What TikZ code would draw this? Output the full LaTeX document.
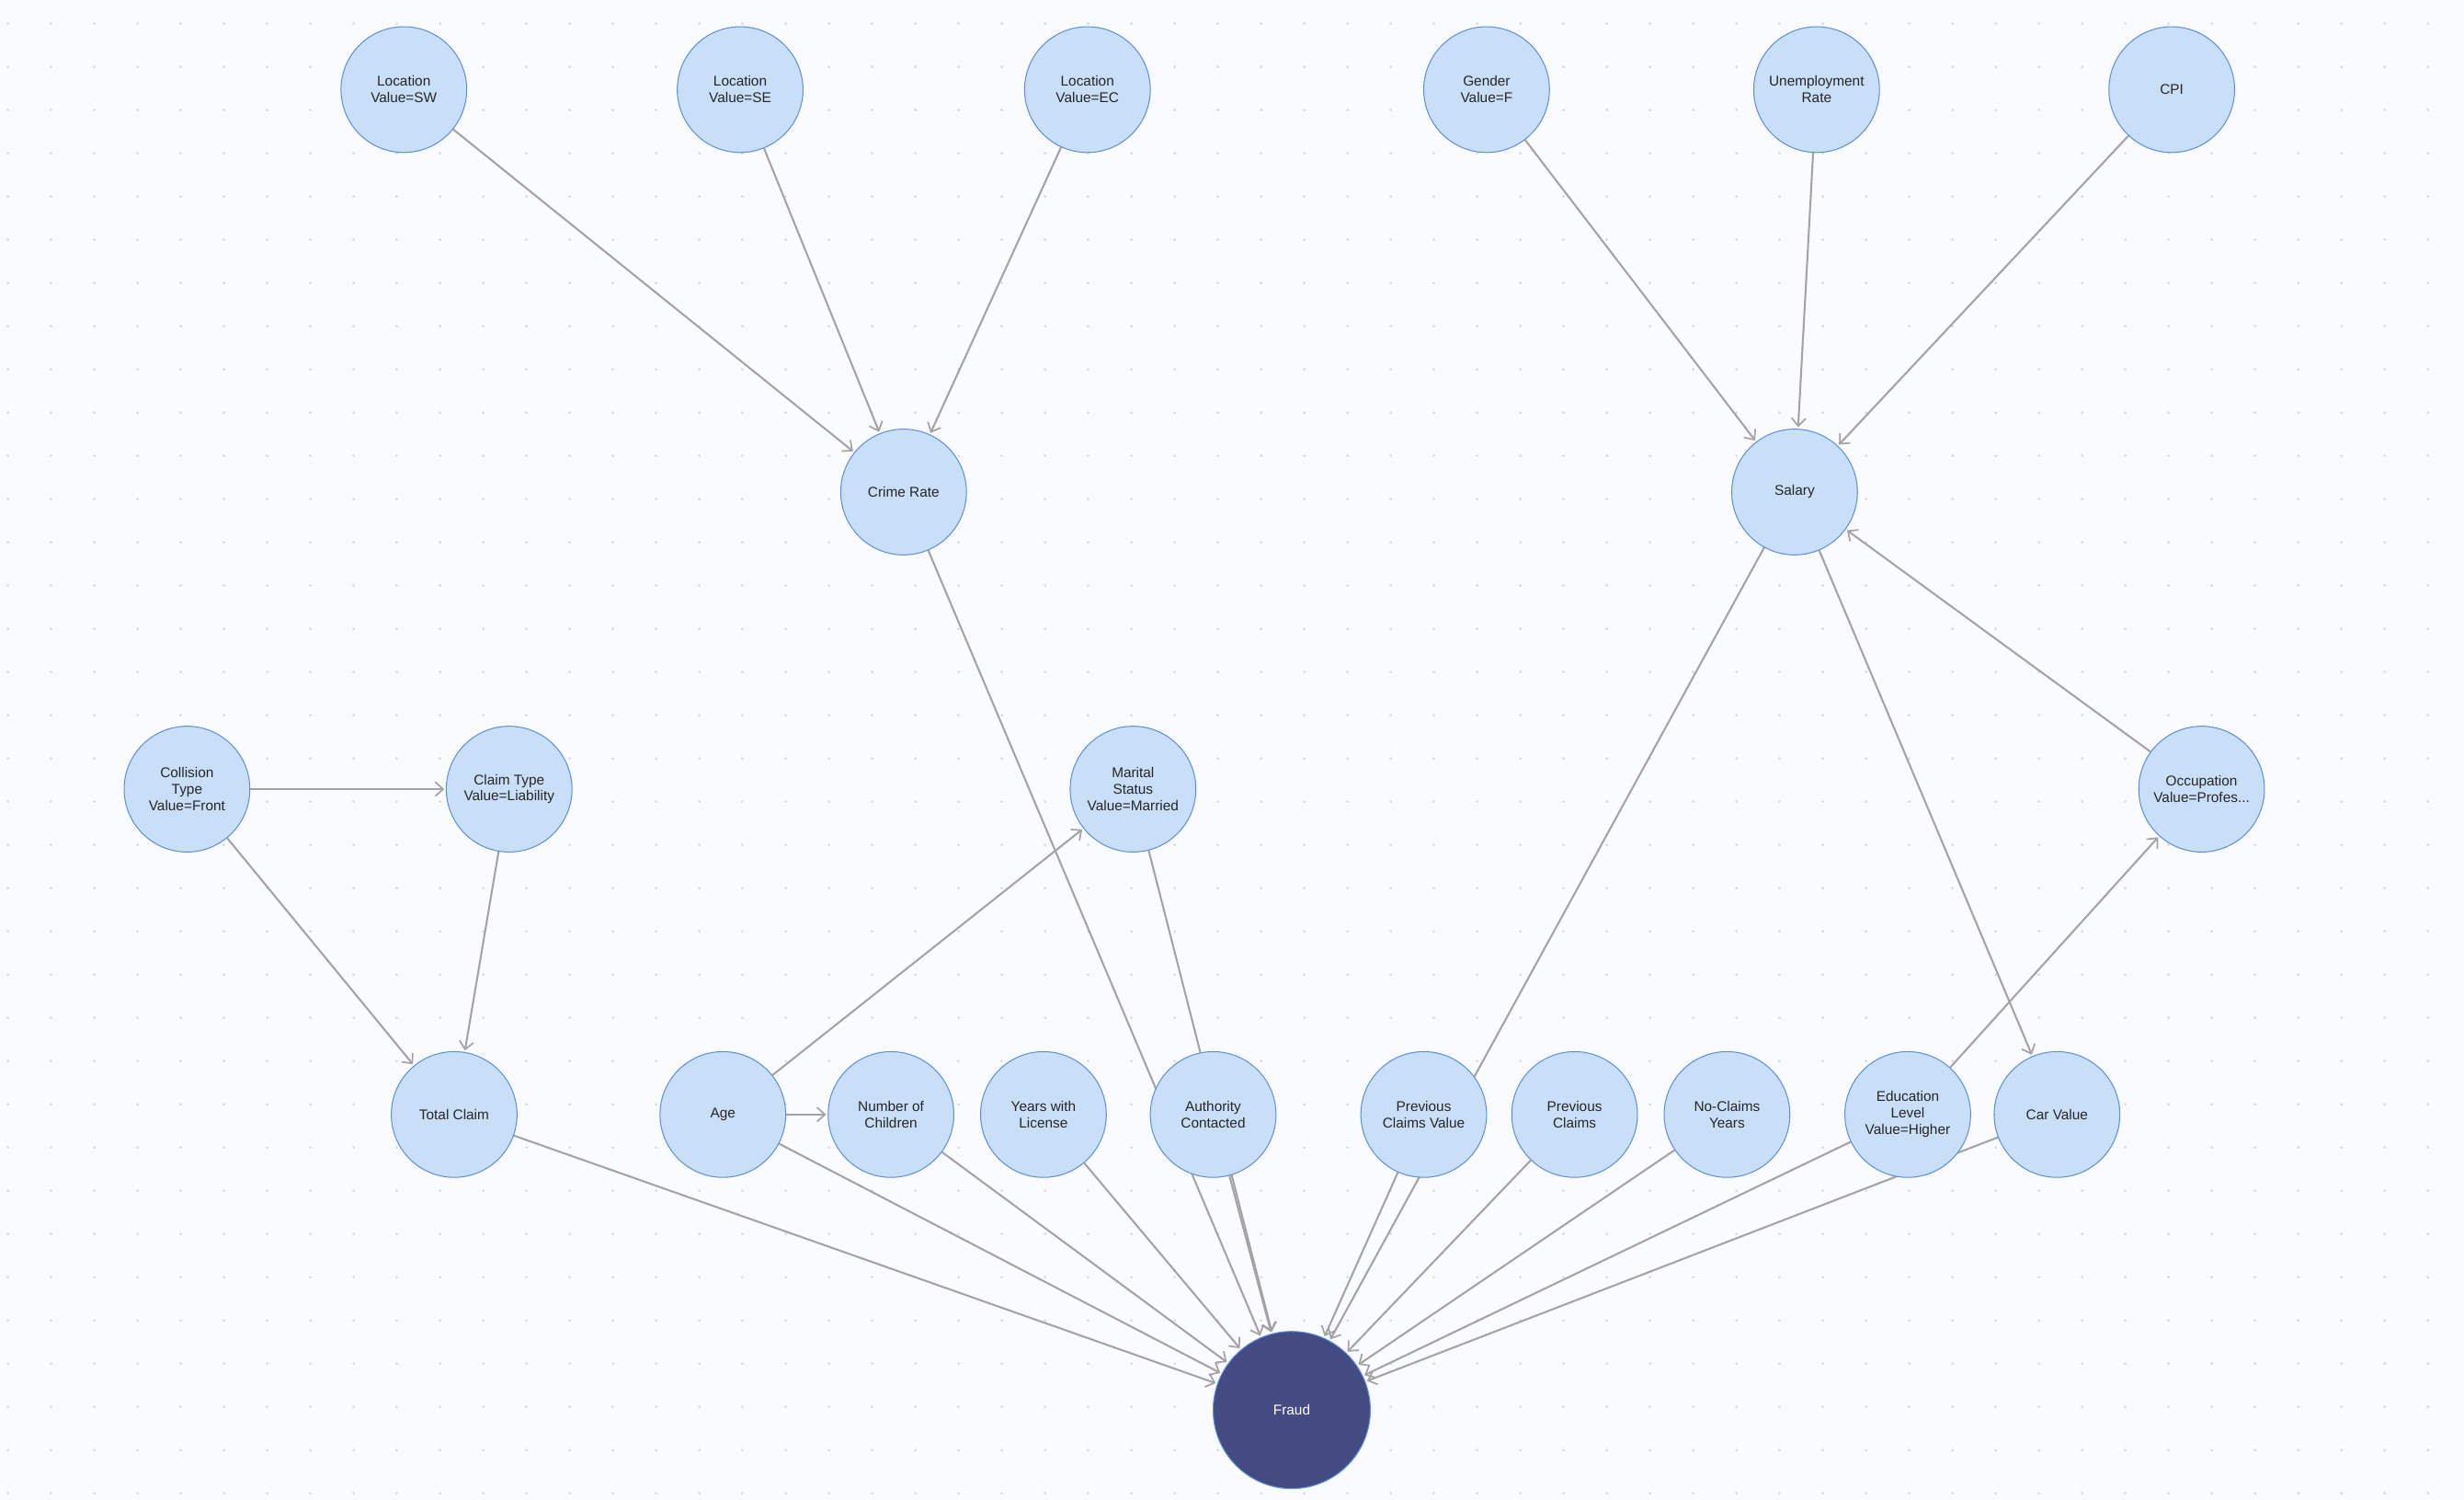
\documentclass[tikz,border=0pt]{standalone}
\usepackage{fontspec}
\setmainfont{Liberation Sans}
\usetikzlibrary{arrows.meta}
\pgfdeclarelayer{bglayer}
\pgfdeclarelayer{edgelayer}
\pgfsetlayers{bglayer,edgelayer,main}
\definecolor{bg}{HTML}{FAFBFE}
\definecolor{nfill}{HTML}{C9DEF7}
\definecolor{nline}{HTML}{5B8FE0}
\definecolor{eline}{HTML}{A3A3A3}
\definecolor{ffill}{HTML}{434B80}
\definecolor{dotc}{HTML}{D5D8E0}
\tikzset{
 bn/.style={circle,fill=nfill,draw=nline,line width=0.6pt,minimum size=80pt,inner sep=1pt,align=center,font=\fontsize{9}{10.5}\selectfont,text=black!85},
 fr/.style={circle,fill=ffill,draw=nline,line width=0.6pt,minimum size=100pt,font=\fontsize{9}{10.5}\selectfont,text=white},
 ed/.style={draw=eline,line width=1.2pt,-{Straight Barb[length=5pt,width=9pt,line width=1pt]},shorten >=1pt}
}
\begin{document}
\begin{tikzpicture}[x=1pt,y=-1pt]
\useasboundingbox (0,0) rectangle (1568,954);
\begin{pgfonlayer}{bglayer}
\fill[bg] (0,0) rectangle (1568,954);
\foreach \i in {0,...,56}{\foreach \j in {0,...,34}{\fill[dotc] (5+27.5*\i,15+27.5*\j) circle (0.9pt);}}
\end{pgfonlayer}
\node[bn] (lsw) at (257,57) {Location\\Value=SW};
\node[bn] (lse) at (471,57) {Location\\Value=SE};
\node[bn] (lec) at (692,57) {Location\\Value=EC};
\node[bn] (gen) at (946,57) {Gender\\Value=F};
\node[bn] (une) at (1156,57) {Unemployment\\Rate};
\node[bn] (cpi) at (1382,57) {CPI};
\node[bn] (cri) at (575,313) {Crime Rate};
\node[bn] (sal) at (1142,313) {Salary};
\node[bn] (col) at (119,502) {Collision\\Type\\Value=Front};
\node[bn] (clt) at (324,502) {Claim Type\\Value=Liability};
\node[bn] (mar) at (721,502) {Marital\\Status\\Value=Married};
\node[bn] (occ) at (1401,502) {Occupation\\Value=Profes...};
\node[bn] (tot) at (289,709) {Total Claim};
\node[bn] (age) at (460,709) {Age};
\node[bn] (nch) at (567,709) {Number of\\Children};
\node[bn] (yrs) at (664,709) {Years with\\License};
\node[bn] (aut) at (772,709) {Authority\\Contacted};
\node[bn] (pcv) at (906,709) {Previous\\Claims Value};
\node[bn] (pcl) at (1002,709) {Previous\\Claims};
\node[bn] (ncy) at (1099,709) {No-Claims\\Years};
\node[bn] (edu) at (1214,709) {Education\\Level\\Value=Higher};
\node[bn] (car) at (1309,709) {Car Value};
\node[fr] (fra) at (822,897) {Fraud};
\begin{pgfonlayer}{edgelayer}
\draw[ed] (lsw) -- (cri);
\draw[ed] (lse) -- (cri);
\draw[ed] (lec) -- (cri);
\draw[ed] (gen) -- (sal);
\draw[ed] (une) -- (sal);
\draw[ed] (cpi) -- (sal);
\draw[ed] (occ) -- (sal);
\draw[ed] (sal) -- (car);
\draw[ed] (edu) -- (occ);
\draw[ed] (col) -- (clt);
\draw[ed] (col) -- (tot);
\draw[ed] (clt) -- (tot);
\draw[ed] (age) -- (mar);
\draw[ed] (age) -- (nch);
\draw[ed] (cri.center) -- (fra);
\draw[ed] (mar.center) -- (fra);
\draw[ed] (sal.center) -- (fra);
\draw[ed] (car.center) -- (fra);
\foreach \n in {tot,age,nch,yrs,aut,pcv,pcl,ncy,edu}{\draw[ed] (\n) -- (fra);}
\end{pgfonlayer}
\end{tikzpicture}
\end{document}
